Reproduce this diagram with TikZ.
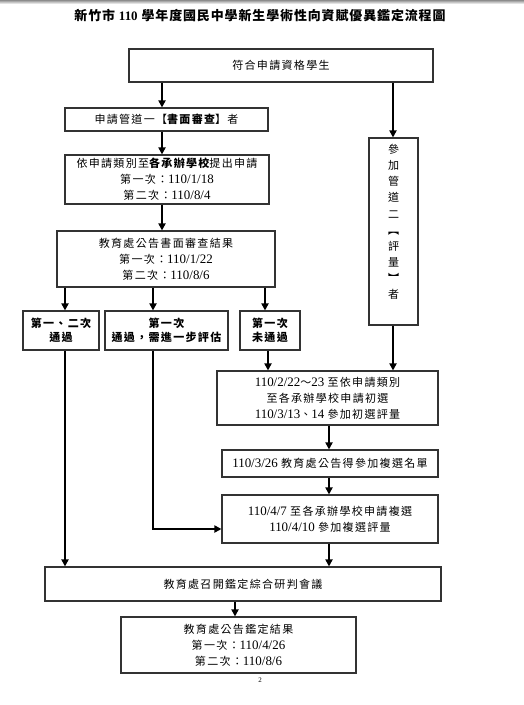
\documentclass[tikz,border=0pt]{standalone}
\usepackage{fontspec}
\setmainfont{Liberation Serif}
\newfontfamily\cjk[Scale=0.85,LetterSpace=12]{Noto Sans CJK TC}
\newfontfamily\cjkbiaoti[LetterSpace=7]{Noto Sans CJK TC}
\usetikzlibrary{arrows.meta}
\newcommand{\zh}[1]{{\cjk #1}}
\newcommand{\zhb}[1]{{\cjk\bfseries #1}}

\begin{document}
\begin{tikzpicture}[
  x=1bp, y=-1bp,
  kuang/.style={draw=black!80, line width=1.1bp, fill=white, inner sep=0pt,
                align=center, font=\fontsize{13}{16}\selectfont},
  xiaokuang/.style={kuang, font=\fontsize{13}{14.5}\selectfont},
  jiantou/.style={draw=black, line width=2.2bp,
                  -{Triangle[length=7bp,width=7bp]}}
]
\useasboundingbox (0,0) rectangle (524,705);
\shade[top color=black!45, bottom color=white] (0,0) rectangle (524,4);

%--------------------------------------------------------------
% Titolo
%--------------------------------------------------------------
\node[font=\fontsize{13}{14}\selectfont] (biaoti) at (260,16)
  {\cjkbiaoti\bfseries 新竹市 {\rmfamily\bfseries 110} 學年度國民中學新生學術性向資賦優異鑑定流程圖};

%--------------------------------------------------------------
% Caselle del primo percorso (書面審查)
%--------------------------------------------------------------
\node[kuang, minimum width=304bp, minimum height=33bp] (fuhe) at (281,65.5)
  {\zh{符合申請資格學生}};
\node[kuang, minimum width=203bp, minimum height=23bp] (guandao1) at (166.5,119.5)
  {\zh{申請管道一【}\zhb{書面審查}\zh{】者}};
\node[kuang, minimum width=204bp, minimum height=49bp] (tichu) at (167,179.5)
  {\zh{依申請類別至}\zhb{各承辦學校}\zh{提出申請}\\
   \zh{第一次：}110/1/18\\ \zh{第二次：}110/8/4};
\node[kuang, minimum width=218bp, minimum height=56bp] (gonggao) at (166,259)
  {\zh{教育處公告書面審查結果}\\
   \zh{第一次：}110/1/22\\ \zh{第二次：}110/8/6};

\node[xiaokuang, minimum width=76bp, minimum height=39bp] (tongguo1) at (61,330.5)
  {\zhb{第一、二次}\\ \zhb{通過}};
\node[xiaokuang, minimum width=123bp, minimum height=39bp] (tongguo2) at (166.5,330.5)
  {\zhb{第一次}\\ \zhb{通過，需進一步評估}};
\node[xiaokuang, minimum width=60bp, minimum height=39bp] (weitongguo) at (270,330.5)
  {\zhb{第一次}\\ \zhb{未通過}};

%--------------------------------------------------------------
% Secondo percorso (評量)
%--------------------------------------------------------------
\node[kuang, font=\fontsize{13}{16.2}\selectfont,
      minimum width=49bp, minimum height=187bp] (guandao2) at (393.5,231.5)
  {\zh{參}\\ \zh{加}\\ \zh{管}\\ \zh{道}\\ \zh{二}\\ \zh{︻}\\ \zh{評}\\ \zh{量}\\ \zh{︼}\\ \zh{者}\\[4bp]};

\node[kuang, minimum width=221bp, minimum height=54bp] (chuxuan) at (327.5,398)
  {110/2/22\zh{～}23 \zh{至依申請類別}\\
   \zh{至各承辦學校申請初選}\\
   110/3/13\zh{、}14 \zh{參加初選評量}};
\node[kuang, minimum width=216bp, minimum height=27bp] (mingdan) at (330,463.5)
  {110/3/26 \zh{教育處公告得參加複選名單}};
\node[kuang, minimum width=216bp, minimum height=48bp] (fuxuan) at (330,519)
  {110/4/7 \zh{至各承辦學校申請複選}\\ 110/4/10 \zh{參加複選評量}};

%--------------------------------------------------------------
% Conclusione
%--------------------------------------------------------------
\node[kuang, minimum width=396bp, minimum height=34bp] (yanpan) at (243,584)
  {\zh{教育處召開鑑定綜合研判會議}};
\node[kuang, minimum width=235bp, minimum height=56bp] (jieguo) at (238.5,645)
  {\zh{教育處公告鑑定結果}\\
   \zh{第一次：}110/4/26\\ \zh{第二次：}110/8/6};

\node[font=\fontsize{7}{8}\selectfont] (yema) at (260,680) {2};

%--------------------------------------------------------------
% Frecce
%--------------------------------------------------------------
\draw[jiantou] (162,0 |- fuhe.south) -- (162,0 |- guandao1.north);
\draw[jiantou] (393,0 |- fuhe.south) -- (393,0 |- guandao2.north);
\draw[jiantou] (162,0 |- guandao1.south) -- (162,0 |- tichu.north);
\draw[jiantou] (162,0 |- tichu.south) -- (162,0 |- gonggao.north);

\draw[jiantou] (65,0 |- gonggao.south)  -- (65,0 |- tongguo1.north);
\draw[jiantou] (153,0 |- gonggao.south) -- (153,0 |- tongguo2.north);
\draw[jiantou] (265,0 |- gonggao.south) -- (265,0 |- weitongguo.north);

\draw[jiantou] (268,0 |- weitongguo.south) -- (268,0 |- chuxuan.north);
\draw[jiantou] (393,0 |- guandao2.south) -- (393,0 |- chuxuan.north);
\draw[jiantou] (329,0 |- chuxuan.south) -- (329,0 |- mingdan.north);
\draw[jiantou] (329,0 |- mingdan.south) -- (329,0 |- fuxuan.north);
\draw[jiantou] (329,0 |- fuxuan.south) -- (329,0 |- yanpan.north);

\draw[jiantou] (153,0 |- tongguo2.south) |- ([yshift=-10bp]fuxuan.west);
\draw[jiantou] (65,0 |- tongguo1.south) -- (65,0 |- yanpan.north);

\draw[jiantou] (235,0 |- yanpan.south) -- (235,0 |- jieguo.north);

\end{tikzpicture}
\end{document}
